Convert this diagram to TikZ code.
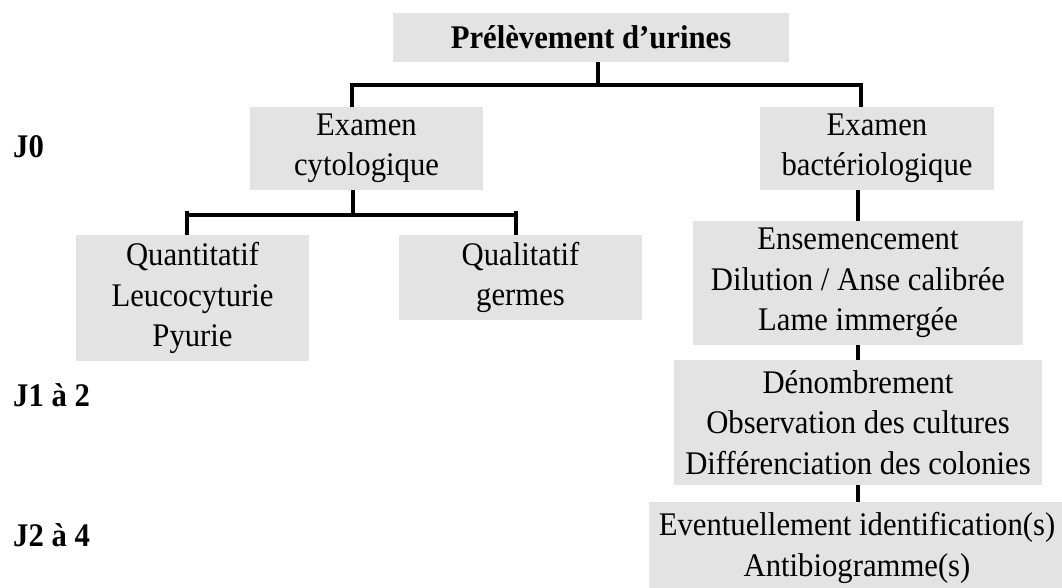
\documentclass[tikz,border=0pt]{standalone}
\usepackage{fontspec}
\setmainfont{Liberation Serif}[FakeStretch=0.93]
\definecolor{boxgray}{RGB}{227,227,227}
\tikzset{
  gbox/.style={rectangle, fill=boxgray, inner sep=0pt, align=center,
    font=\fontsize{33}{40.5}\selectfont},
  conn/.style={line width=3.6pt, black},
  daylab/.style={anchor=west, inner sep=0pt, font=\fontsize{33}{40}\selectfont\bfseries}
}
\begin{document}
\begin{tikzpicture}[x=1pt,y=-1pt]
\useasboundingbox (0,0) rectangle (1062,587);
\clip (0,0) rectangle (1062,587);

% boxes
\node[gbox, minimum width=396pt, minimum height=49pt, font=\fontsize{33}{40}\selectfont\bfseries] (top) at (591,37.5) {Prélèvement d’urines};
\node[gbox, minimum width=233pt, minimum height=83pt] (cyto) at (366.5,148.5) {Examen\\cytologique};
\node[gbox, minimum width=234pt, minimum height=83pt] (bact) at (877,148.5) {Examen\\bactériologique};
\node[gbox, minimum width=233pt, minimum height=126pt] (quant) at (192.5,298) {Quantitatif\\Leucocyturie\\Pyurie};
\node[gbox, minimum width=243pt, minimum height=85pt] (qual) at (520.5,277.5) {Qualitatif\\germes};
\node[gbox, minimum width=330pt, minimum height=124pt] (ens) at (858,283) {Ensemencement\\Dilution / Anse calibrée\\Lame immergée};
\node[gbox, minimum width=368pt, minimum height=125pt] (denom) at (858,422.5) {Dénombrement\\Observation des cultures\\Différenciation des colonies};
\node[gbox, minimum width=416pt, minimum height=92pt] (event) at (857,548) {Eventuellement identification(s)\\Antibiogramme(s)};

% day labels
\node[daylab] (j0) at (13,147) {J0};
\node[daylab] (j12) at (13,395) {J1 à 2};
\node[daylab] (j24) at (13,535) {J2 à 4};

% connectors: top level
\coordinate (tj) at (598,85);
\coordinate (cl) at (352,85);
\coordinate (cr) at (861,85);
\draw[conn] (top.south -| tj) -- (tj);
\draw[conn] (cyto.north -| cl) -- (cl) -- (cr) -- (bact.north -| cr);

% connectors: cytologique
\coordinate (cj) at (353,215);
\coordinate (ql) at (187,215);
\coordinate (qr) at (516,215);
\coordinate (qlt) at (187,211);
\coordinate (qrt) at (516,211);
\draw[conn] (cyto.south -| cj) -- (cj);
\draw[conn] (ql) -- (qr);
\draw[conn] (qlt) -- (quant.north -| qlt);
\draw[conn] (qrt) -- (qual.north -| qrt);

% connectors: bacteriologique chain
\draw[conn] (bact.south -| ens.north) -- (ens.north);
\draw[conn] (ens.south) -- (denom.north);
\draw[conn] (denom.south) -- (event.north -| denom.south);
\end{tikzpicture}
\end{document}
